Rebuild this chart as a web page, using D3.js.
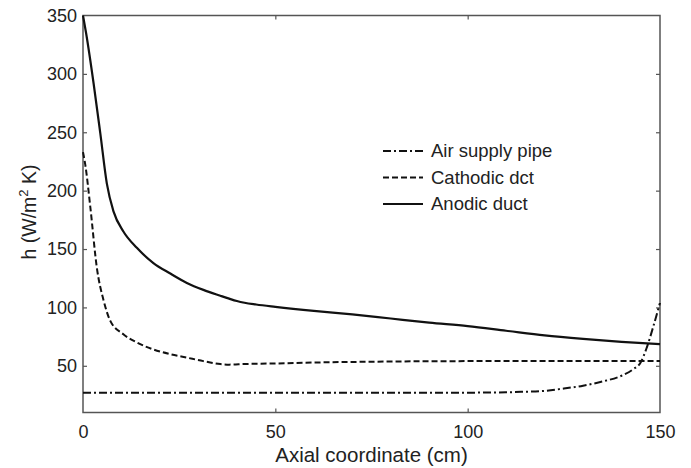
<!DOCTYPE html>
<html>
<head>
<meta charset="utf-8">
<script src="https://cdn.jsdelivr.net/npm/d3@7"></script>
<style>
  html, body { margin: 0; padding: 0; background: #fff; }
  svg { display: block; font-family: "Liberation Sans", Arial, Helvetica, sans-serif; }
</style>
</head>
<body>
<svg id="chart" width="691" height="468"></svg>
<script>
// Heat transfer coefficient along the axial coordinate
const xTicks = [0, 50, 100, 150];
const yTicks = [50, 100, 150, 200, 250, 300, 350];

const airX = [0, 20, 40, 60, 80, 100, 110, 115, 120, 125, 130, 135, 140, 143, 145, 146.5, 148.2, 150];
const airY = [27, 27, 27, 27, 27, 27, 27.3, 27.8, 28.5, 30.5, 33, 36.5, 41.5, 47, 53, 65, 83, 104];

const cathX = [0, 0.6, 1.9, 3.6, 5.35, 7.1, 10.5, 14, 18.3, 22.7, 27, 31.3, 35.7, 38, 42, 50, 60, 75, 100, 125, 150];
const cathY = [233, 222, 186, 134, 106, 88.5, 77, 70, 64, 60, 57, 54, 51.5, 51, 51.5, 52, 52.8, 53.5, 54, 54, 54];

const anoX = [0, 0.8, 2.75, 4.5, 6.2, 7.95, 10.5, 14, 18.3, 22.7, 27, 31.3, 35.7, 38, 40, 42, 45, 50, 60, 70, 80, 90, 100, 110, 120, 130, 140, 150];
const anoY = [350, 335, 292, 249, 206, 182, 165, 151, 138, 129, 121, 115, 110, 107.5, 105.5, 104, 102.5, 100.5, 97, 94, 90.5, 87, 84, 80, 76, 73, 70.5, 68.5];

const seriesNames = ["Air supply pipe", "Cathodic dct", "Anodic duct"];
const seriesDash = ["8,3,2,3", "6,3", null];

const svg = d3.select("#chart");
const margin = { left: 83, right: 31, top: 15.5, bottom: 55.5 };
const W = 691, H = 468;
const x = d3.scaleLinear().domain([0, 150]).range([margin.left, W - margin.right]);
const y = d3.scaleLinear().domain([10, 350]).range([H - margin.bottom, margin.top]);

const axisColor = "#555";
const fontSize = 18;

// frame box
svg.append("rect")
  .attr("x", x(0)).attr("y", y(350))
  .attr("width", x(150) - x(0)).attr("height", y(10) - y(350))
  .attr("fill", "none").attr("stroke", axisColor).attr("stroke-width", 1.5);

function styleAxis(g, showLabels) {
  g.select(".domain").remove();
  g.selectAll(".tick line").attr("stroke", axisColor).attr("stroke-width", 1.2);
  g.selectAll(".tick text")
    .attr("fill", "#222")
    .style("font-size", fontSize + "px")
    .style("display", showLabels ? null : "none");
}

// bottom axis with inward ticks
svg.append("g").attr("transform", `translate(0,${y(10)})`)
  .call(d3.axisBottom(x).tickValues(xTicks).tickSizeInner(-4).tickSizeOuter(0).tickPadding(13))
  .call(g => styleAxis(g, true))
  .call(g => g.selectAll(".tick").filter(d => d === 0 || d === 150).select("line").remove());
// top axis ticks
svg.append("g").attr("transform", `translate(0,${y(350)})`)
  .call(d3.axisTop(x).tickValues(xTicks).tickSizeInner(-4).tickSizeOuter(0))
  .call(g => styleAxis(g, false))
  .call(g => g.selectAll(".tick").filter(d => d === 0 || d === 150).select("line").remove());
// left axis
svg.append("g").attr("transform", `translate(${x(0)},0)`)
  .call(d3.axisLeft(y).tickValues(yTicks).tickSizeInner(-4).tickSizeOuter(0).tickPadding(6))
  .call(g => styleAxis(g, true))
  .call(g => g.selectAll(".tick").filter(d => d === 350).select("line").remove());
// right axis ticks
svg.append("g").attr("transform", `translate(${x(150)},0)`)
  .call(d3.axisRight(y).tickValues(yTicks).tickSizeInner(-4).tickSizeOuter(0))
  .call(g => styleAxis(g, false))
  .call(g => g.selectAll(".tick").filter(d => d === 350).select("line").remove());

// axis titles
svg.append("text")
  .attr("x", (x(0) + x(150)) / 2).attr("y", 462)
  .attr("text-anchor", "middle").attr("fill", "#222")
  .style("font-size", "20.5px")
  .text("Axial coordinate (cm)");

const yTitle = svg.append("text")
  .attr("transform", `translate(36,${(y(10) + y(350)) / 2 - 2}) rotate(-90)`)
  .attr("text-anchor", "middle").attr("fill", "#222")
  .style("font-size", "19.5px");
yTitle.append("tspan").text("h (W/m");
yTitle.append("tspan").attr("dy", -8).style("font-size", "13px").text("2");
yTitle.append("tspan").attr("dy", 8).text(" K)");

// curves
const line = d3.line().x(d => x(d[0])).y(d => y(d[1])).curve(d3.curveMonotoneX);
const series = [
  d3.zip(airX, airY),
  d3.zip(cathX, cathY),
  d3.zip(anoX, anoY)
];
const plot = svg.append("g");
series.forEach((pts, i) => {
  plot.append("path")
    .datum(pts)
    .attr("d", line)
    .attr("fill", "none")
    .attr("stroke", "#111")
    .attr("stroke-width", i === 2 ? 2.2 : 2)
    .attr("stroke-dasharray", seriesDash[i]);
});

// legend
const legend = svg.append("g");
seriesNames.forEach((name, i) => {
  const yy = 151 + i * 26.5;
  legend.append("line")
    .attr("x1", 383).attr("x2", 423)
    .attr("y1", yy).attr("y2", yy)
    .attr("stroke", "#111").attr("stroke-width", 2)
    .attr("stroke-dasharray", seriesDash[i]);
  legend.append("text")
    .attr("x", 431).attr("y", yy).attr("dy", "0.35em")
    .attr("fill", "#222")
    .style("font-size", "18.5px")
    .text(name);
});
</script>
</body>
</html>
